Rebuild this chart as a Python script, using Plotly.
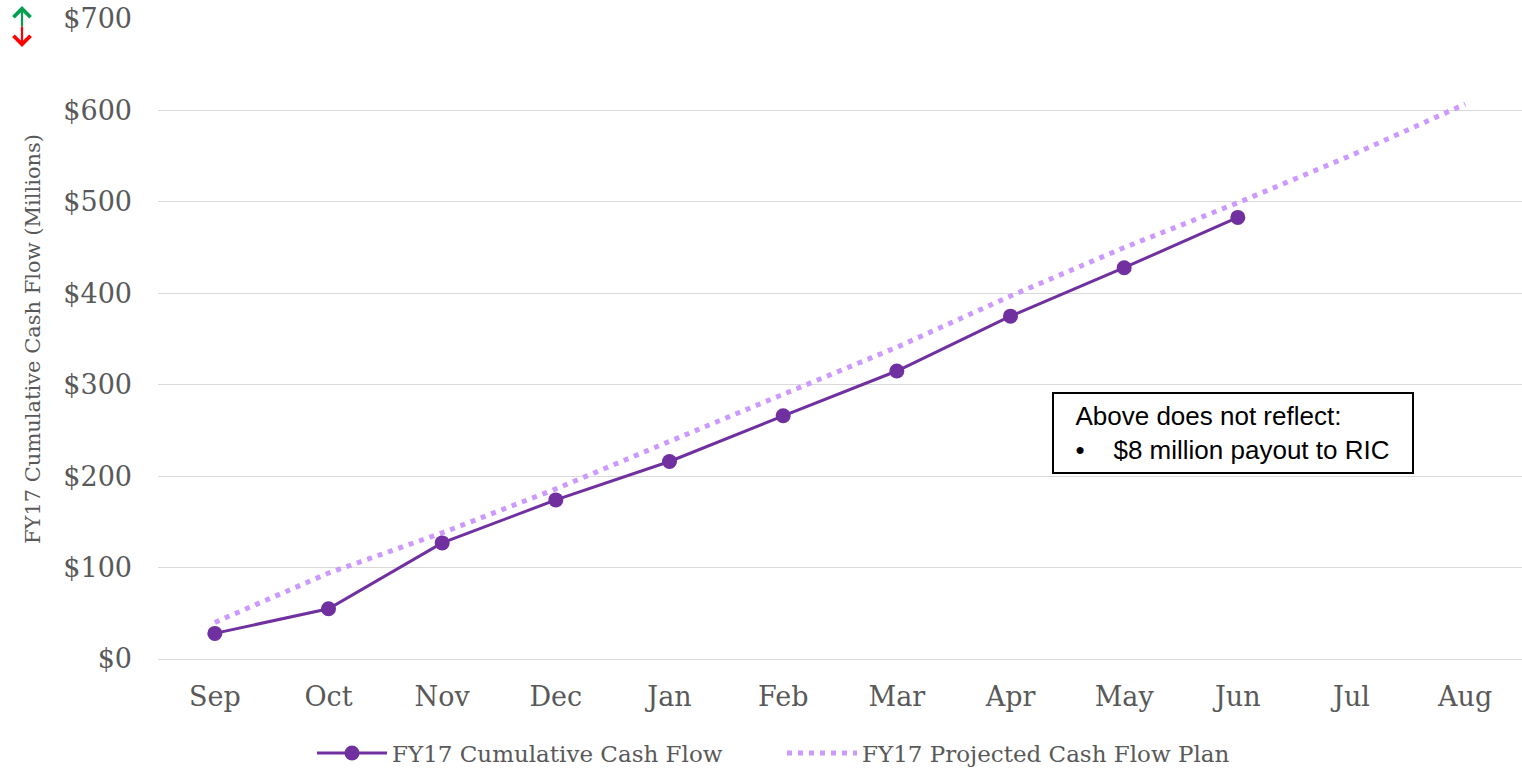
import plotly.graph_objects as go

months = ["Sep", "Oct", "Nov", "Dec", "Jan", "Feb", "Mar", "Apr", "May", "Jun", "Jul", "Aug"]
actual = [28, 55, 127, 174, 216, 266, 315, 375, 428, 483]
projected = [40, 94, 138, 186, 238, 290, 341, 397, 450, 499, 551, 607]
y_ticks = [0, 100, 200, 300, 400, 500, 600, 700]
y_labels = ["$" + str(v) for v in y_ticks]

serif = "Georgia, 'DejaVu Serif', serif"
gray = "#595959"

fig = go.Figure()
fig.add_trace(go.Scatter(
    x=months, y=projected, name="FY17 Projected Cash Flow Plan",
    mode="lines", line=dict(color="#cc99ff", width=5, dash="5px,6px"),
))
fig.add_trace(go.Scatter(
    x=months[:len(actual)], y=actual, name="FY17 Cumulative Cash Flow",
    mode="lines+markers", line=dict(color="#7030a0", width=3),
    marker=dict(color="#7030a0", size=15),
))

fig.update_layout(
    width=1522, height=768,
    margin=dict(l=158, r=0, t=19, b=109, autoexpand=False),
    plot_bgcolor="white", paper_bgcolor="white",
    font=dict(family=serif, color=gray),
    showlegend=True,
    legend=dict(orientation="h", x=312 / 1522, xref="container", xanchor="left",
                y=(768 - 753) / 768, yref="container", yanchor="middle",
                traceorder="reversed", font=dict(size=23, color=gray),
                itemwidth=70, entrywidth=385, entrywidthmode="pixels"),
    xaxis=dict(range=[-0.5, 11.5], showgrid=False, showline=False, ticks="",
               ticklabelstandoff=19,
               tickfont=dict(size=27, color=gray, family=serif)),
    yaxis=dict(range=[0, 700], tickvals=y_ticks, ticktext=y_labels,
               showgrid=True, gridcolor="#d9d9d9", gridwidth=1.3,
               zeroline=True, zerolinecolor="#d9d9d9", zerolinewidth=1.3,
               ticks="", ticklabelstandoff=25,
               tickfont=dict(size=27, color=gray, family=serif),
               title=dict(text="FY17 Cumulative Cash Flow (Millions)",
                          font=dict(size=21, color=gray, family=serif), standoff=16)),
)

fig.add_annotation(
    x=(1233 - 158) / 1364, y=(659 - 433) / 640, xref="x domain", yref="y domain",
    xanchor="center", yanchor="middle", showarrow=False,
    text="&nbsp;&nbsp;Above does not reflect:<br>&nbsp;&nbsp;•&nbsp;&nbsp;&nbsp;&nbsp;$8 million payout to RIC",
    align="left", width=344,
    font=dict(family="Arial, 'Liberation Sans', sans-serif", size=26, color="black"),
    bordercolor="black", borderwidth=2, borderpad=7, bgcolor="white",
)

# up/down arrows at top-left
ax_x = (22 - 158) / 1364
fig.add_annotation(x=ax_x, y=(659 - 6) / 640, ax=ax_x, ay=(659 - 28) / 640,
                   xref="x domain", yref="y domain", axref="x domain", ayref="y domain",
                   showarrow=True, arrowhead=4, arrowsize=1.5, arrowwidth=2.2,
                   arrowcolor="#00a050", text="")
fig.add_annotation(x=ax_x, y=(659 - 47) / 640, ax=ax_x, ay=(659 - 25) / 640,
                   xref="x domain", yref="y domain", axref="x domain", ayref="y domain",
                   showarrow=True, arrowhead=4, arrowsize=1.5, arrowwidth=2.2,
                   arrowcolor="#ff0000", text="")

fig.write_html("out.html")
